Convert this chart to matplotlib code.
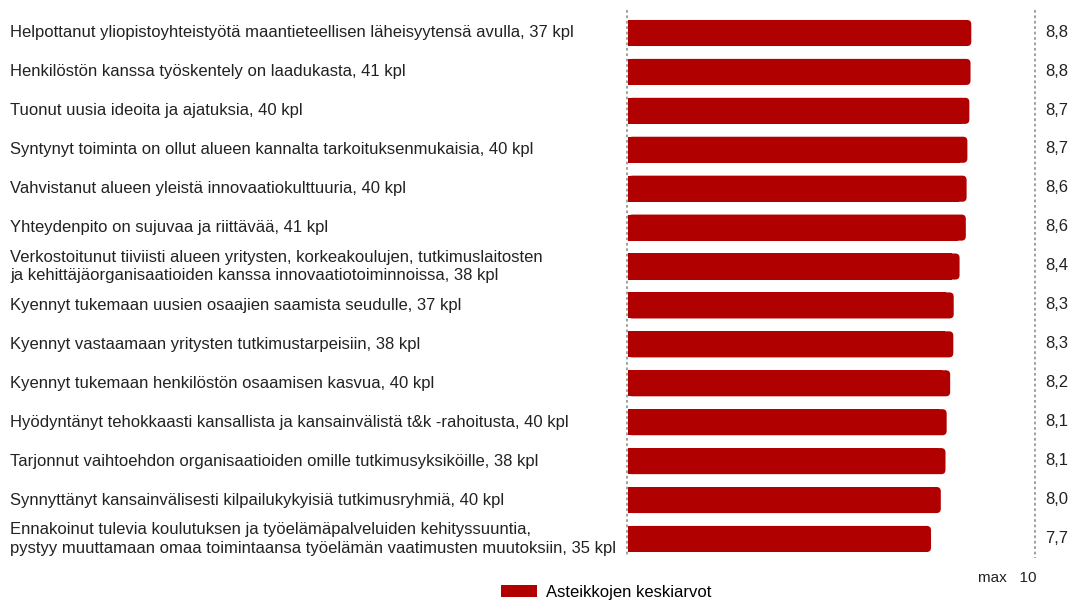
import matplotlib.pyplot as plt
from matplotlib.patches import FancyBboxPatch, Rectangle, Patch
from matplotlib import transforms

labels = [
    'Helpottanut yliopistoyhteistyötä maantieteellisen läheisyytensä avulla, 37 kpl',
    'Henkilöstön kanssa työskentely on laadukasta, 41 kpl',
    'Tuonut uusia ideoita ja ajatuksia, 40 kpl',
    'Syntynyt toiminta on ollut alueen kannalta tarkoituksenmukaisia, 40 kpl',
    'Vahvistanut alueen yleistä innovaatiokulttuuria, 40 kpl',
    'Yhteydenpito on sujuvaa ja riittävää, 41 kpl',
    'Verkostoitunut tiiviisti alueen yritysten, korkeakoulujen, tutkimuslaitosten\n'
    'ja kehittäjäorganisaatioiden kanssa innovaatiotoiminnoissa, 38 kpl',
    'Kyennyt tukemaan uusien osaajien saamista seudulle, 37 kpl',
    'Kyennyt vastaamaan yritysten tutkimustarpeisiin, 38 kpl',
    'Kyennyt tukemaan henkilöstön osaamisen kasvua, 40 kpl',
    'Hyödyntänyt tehokkaasti kansallista ja kansainvälistä t&k -rahoitusta, 40 kpl',
    'Tarjonnut vaihtoehdon organisaatioiden omille tutkimusyksiköille, 38 kpl',
    'Synnyttänyt kansainvälisesti kilpailukykyisiä tutkimusryhmiä, 40 kpl',
    'Ennakoinut tulevia koulutuksen ja työelämäpalveluiden kehityssuuntia,\n'
    'pystyy muuttamaan omaa toimintaansa työelämän vaatimusten muutoksiin, 35 kpl',
]
values = [8.78, 8.76, 8.73, 8.68, 8.66, 8.64, 8.48, 8.33, 8.32, 8.24, 8.15, 8.12, 8.00, 7.75]
shown = ['8,8', '8,8', '8,7', '8,7', '8,6', '8,6', '8,4', '8,3', '8,3', '8,2', '8,1', '8,1', '8,0', '7,7']
max_value = 10

red = '#b00000'
text_col = '#222222'
plt.rcParams['font.family'] = ['Liberation Sans', 'DejaVu Sans']

W, H = 1075, 602
fig = plt.figure(figsize=(W / 100, H / 100), dpi=100)

# axes: x pixel 628 -> 0, 10 units = 391 px; bar centers at 33 + 38.92*i px
px_per_unit = 39.1
x0_px = 628
left_px, right_px = 600, 1075
top_px, bot_px = 10, 560
pitch = 38.92
ax = fig.add_axes([left_px / W, 1 - bot_px / H, (right_px - left_px) / W, (bot_px - top_px) / H])
ax.set_xlim((left_px - x0_px) / px_per_unit, (right_px - x0_px) / px_per_unit)
ax.set_ylim((bot_px - 33) / pitch, (top_px - 33) / pitch)
ax.axis('off')

bh = 0.67
for i, v in enumerate(values):
    ax.add_patch(FancyBboxPatch((0, i - bh / 2), v, bh,
                                boxstyle='round,pad=0,rounding_size=0.11',
                                fc=red, ec='none'))
    ax.add_patch(Rectangle((0, i - bh / 2), v - 0.2, bh, fc=red, ec='none'))
    ax.text((1045 - x0_px) / px_per_unit, i - 0.02, shown[i], ha='left', va='center',
            fontsize=12, color=text_col)

ax.plot([-0.03, -0.03], [(top_px - 33) / pitch, (555 - 33) / pitch], ls=(0, (1.5, 1.5)),
        color='#999999', lw=1.3)
xr = (1035 - x0_px) / px_per_unit
ax.plot([xr, xr], [(top_px - 33) / pitch, (558 - 33) / pitch], ls=(0, (1.5, 1.5)),
        color='#999999', lw=1.3)

tr = transforms.blended_transform_factory(fig.transFigure, ax.transData)
for i, lab in enumerate(labels):
    ax.text(10 / W, i, lab, transform=tr, ha='left', va='center', fontsize=12,
            color=text_col, linespacing=1.3)

fig.text(1037 / W, 1 - 578 / H, 'max   %d' % max_value, ha='right', va='center',
         fontsize=11, color=text_col)

fig.legend(handles=[Patch(fc=red, ec='none', label='Asteikkojen keskiarvot')],
           loc='center', bbox_to_anchor=(606 / W, 1 - 592 / H), frameon=False,
           fontsize=12, handlelength=2.2, handleheight=0.7, handletextpad=0.5,
           borderpad=0.1)

fig.savefig('out.png', dpi=100)
